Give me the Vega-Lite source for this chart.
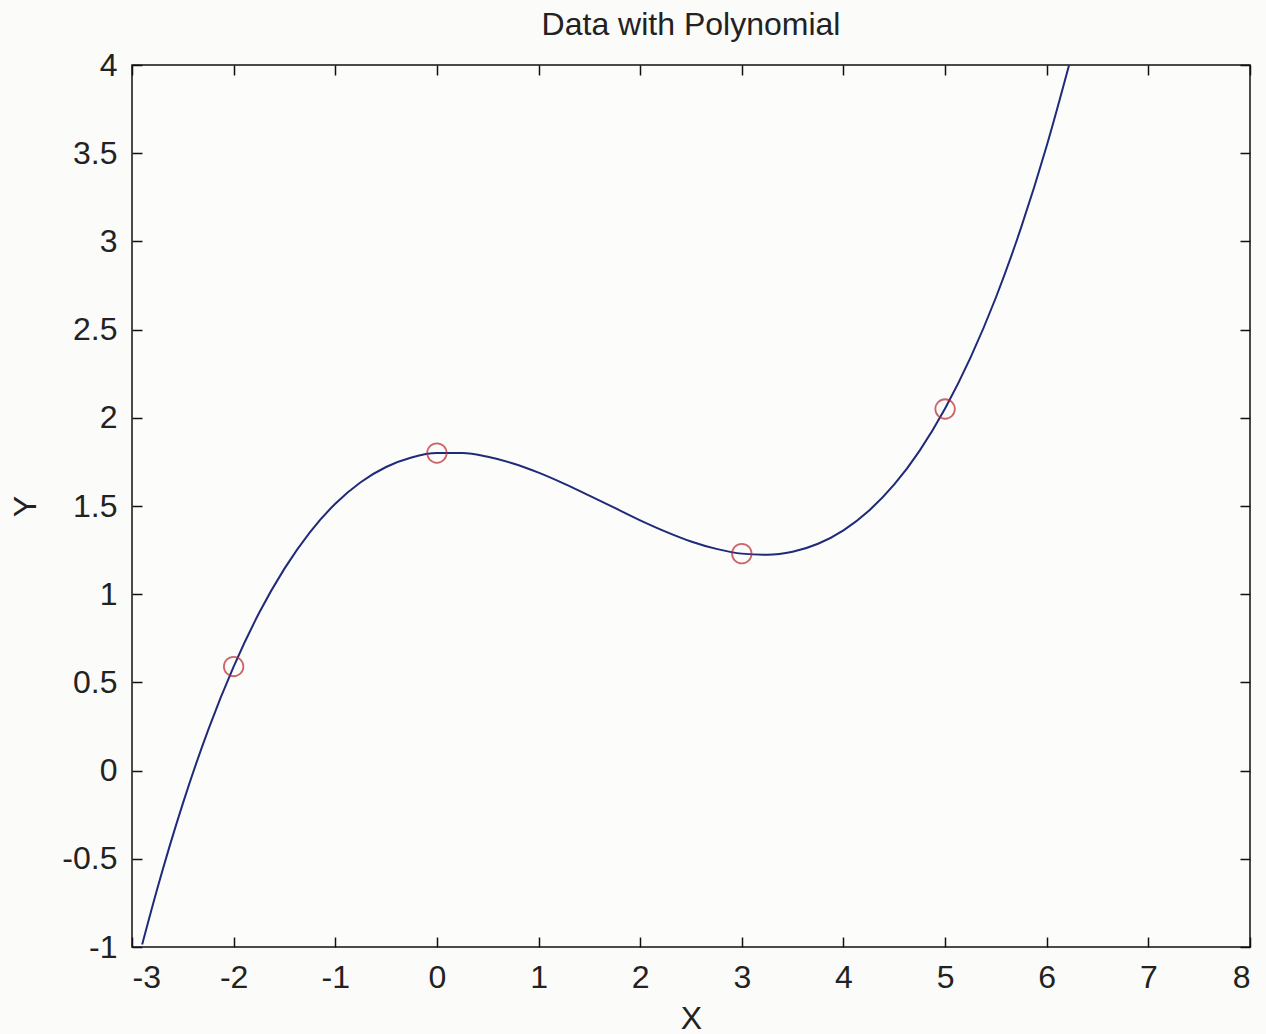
{
  "$schema": "https://vega.github.io/schema/vega-lite/v6.json",
  "width": 1118,
  "height": 882,
  "autosize": {"type": "none"},
  "padding": {"left": 132, "top": 65, "right": 16, "bottom": 87},
  "background": "#fbfbf9",
  "title": {"text": "Data with Polynomial", "font": "Liberation Sans", "fontSize": 32, "fontWeight": "normal", "color": "#222222", "anchor": "middle", "offset": 7},
  "config": {
    "view": {"stroke": "#111111", "strokeWidth": 1.5, "fill": "#fcfcfb"},
    "axis": {
      "grid": false,
      "domain": false,
      "tickColor": "#111111",
      "tickWidth": 1.5,
      "tickSize": -10,
      "labelFont": "Liberation Sans",
      "labelFontSize": 32,
      "labelColor": "#222222",
      "labelExpr": "'' + datum.value",
      "titleFont": "Liberation Sans",
      "titleFontSize": 32,
      "titleFontWeight": "normal",
      "titleColor": "#222222"
    }
  },
  "datasets": {
    "curve": [
      {"x": -2.9, "y": -0.986}, {"x": -2.75, "y": -0.667}, {"x": -2.5, "y": -0.187}, {"x": -2.25, "y": 0.231},
      {"x": -2.0, "y": 0.589}, {"x": -1.75, "y": 0.893}, {"x": -1.5, "y": 1.145}, {"x": -1.25, "y": 1.351},
      {"x": -1.0, "y": 1.513}, {"x": -0.75, "y": 1.635}, {"x": -0.5, "y": 1.721}, {"x": -0.25, "y": 1.775},
      {"x": 0.0, "y": 1.8}, {"x": 0.25, "y": 1.8}, {"x": 0.5, "y": 1.779}, {"x": 0.75, "y": 1.741},
      {"x": 1.0, "y": 1.689}, {"x": 1.25, "y": 1.627}, {"x": 1.5, "y": 1.559}, {"x": 1.75, "y": 1.489},
      {"x": 2.0, "y": 1.419}, {"x": 2.25, "y": 1.355}, {"x": 2.5, "y": 1.299}, {"x": 2.75, "y": 1.257},
      {"x": 3.0, "y": 1.23}, {"x": 3.25, "y": 1.224}, {"x": 3.5, "y": 1.241}, {"x": 3.75, "y": 1.286},
      {"x": 4.0, "y": 1.362}, {"x": 4.25, "y": 1.473}, {"x": 4.5, "y": 1.622}, {"x": 4.75, "y": 1.814},
      {"x": 5.0, "y": 2.053}, {"x": 5.25, "y": 2.341}, {"x": 5.5, "y": 2.682}, {"x": 5.75, "y": 3.082},
      {"x": 6.0, "y": 3.542}, {"x": 6.2, "y": 3.957}, {"x": 6.22, "y": 4.0}
    ],
    "points": [
      {"x": -2, "y": 0.59}, {"x": 0, "y": 1.8}, {"x": 3, "y": 1.23}, {"x": 5, "y": 2.05}
    ]
  },
  "layer": [
    {
      "data": {"name": "curve"},
      "mark": {"type": "line", "color": "#1f2a78", "strokeWidth": 2, "interpolate": "monotone", "clip": true},
      "encoding": {
        "x": {"field": "x", "type": "quantitative", "scale": {"domain": [-3, 8], "nice": false, "zero": false},
              "axis": {"orient": "bottom", "title": "X", "values": [-3, -2, -1, 0, 1, 2, 3, 4, 5, 6, 7, 8], "labelPadding": 25, "titlePadding": 10}},
        "y": {"field": "y", "type": "quantitative", "scale": {"domain": [-1, 4], "nice": false, "zero": false},
              "axis": {"orient": "left", "title": "Y", "values": [-1, -0.5, 0, 0.5, 1, 1.5, 2, 2.5, 3, 3.5, 4], "labelPadding": 25, "titlePadding": 19}}
      }
    },
    {
      "data": {"name": "points"},
      "mark": {"type": "point", "shape": "circle", "filled": false, "color": "#b8262c", "strokeWidth": 1.8, "size": 380},
      "encoding": {
        "x": {"field": "x", "type": "quantitative",
              "axis": {"orient": "top", "title": null, "labels": false, "values": [-3, -2, -1, 0, 1, 2, 3, 4, 5, 6, 7, 8]}},
        "y": {"field": "y", "type": "quantitative",
              "axis": {"orient": "right", "title": null, "labels": false, "values": [-1, -0.5, 0, 0.5, 1, 1.5, 2, 2.5, 3, 3.5, 4]}}
      }
    }
  ],
  "resolve": {"axis": {"x": "independent", "y": "independent"}}
}
